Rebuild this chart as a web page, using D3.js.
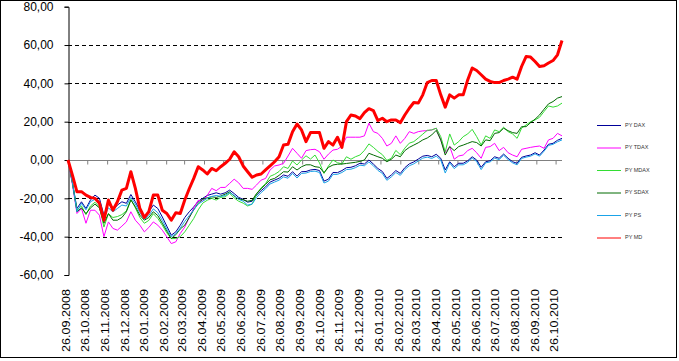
<!DOCTYPE html>
<html><head><meta charset="utf-8">
<script src="https://cdn.jsdelivr.net/npm/d3@7"></script>
<style>body{margin:0;background:#fff}svg{display:block}</style>
</head><body>
<svg id="c" width="679" height="361"></svg>
<script>
// weekly observations (Fridays) starting 26.09.2008
const startDate = "2008-09-26";
const seriesNames = ["PY DAX","PY TDAX","PY MDAX","PY SDAX","PY PS","PY MD"];
const yTicks = [-60,-40,-20,0,20,40,60,80];
const gridValues = [-40,-20,20,40,60];
const tickMonthFrom = "2008-09-01", tickMonthTo = "2010-11-01";

const DAX = [0,-12,-25.3,-21.8,-25.3,-20.9,-18.3,-20,-28.8,-22.6,
 -26.2,-23.5,-21.8,-22.6,-18,-21.8,-26.2,-29.3,-27,-23.5,
 -25.3,-29.7,-34.5,-39.2,-37.5,-34,-30,-27,-24.5,-21.5,
 -20,-18.5,-17.8,-17.1,-17.8,-17.1,-15.7,-17.5,-19.5,-20.5,
 -22,-21.5,-18.3,-16,-14,-11.5,-10.5,-9.5,-7.8,-8.5,
 -6.1,-8.4,-6.1,-6,-5.2,-4.9,-5.5,-11,-10,-6.5,
 -6.6,-5.5,-4,-3.8,-3,-1.7,-2.1,0,-2.1,-4.4,
 -6,-9.6,-7.8,-5.5,-7,-4,-2,-1,0.5,2,
 2.4,1.7,3,0.9,-5.2,-0.9,-3.5,-1.7,-1.7,-0.4,
 1.7,0,-3.8,-0.9,-0.4,1.7,0.9,3.1,0.9,-0.9,
 -1.7,1.4,2.1,2.6,3.8,2.6,5.2,8.2,8.7,10.3,11.3];
const TDAX = [0,-13,-27.9,-25.3,-33,-26.2,-26.2,-28.8,-40,-32.3,
 -35.7,-36.6,-34.5,-32.3,-27,-31.4,-34,-37.5,-35.2,-32.3,
 -34,-36.6,-40.1,-43.6,-42.7,-38.3,-35,-30,-25,-21,
 -21.5,-18.5,-14.8,-16,-14.3,-14.3,-12.2,-10,-11.9,-14.8,
 -14.8,-15.3,-13,-10.5,-9.6,-5.2,-3.1,-2.6,-1.7,2.1,
 6.1,3.5,0.9,4.9,5.4,5.6,4.3,0.4,3.1,5.2,
 5.6,7.3,11.9,11.9,11.9,11.9,12.6,19.2,14.8,13.9,
 11.3,7.3,8.7,12.6,8.7,11.3,14.8,13.9,14.8,15.2,
 15.3,15.7,16.6,10.5,3.8,7,0.4,2.1,2.6,4.9,
 6.1,3.8,0.9,6.6,7,8.7,4.9,6.6,3.8,2.6,
 1.7,5.6,6.1,6.6,7,7.3,6.1,10.5,11.3,13.9,12.6];
const MDAX = [0,-12,-26,-24,-28.5,-24,-22,-24.5,-35,-28,
 -30,-29.5,-28.5,-26.5,-20.5,-25,-30,-33,-31.5,-28,
 -30.5,-34,-38,-41,-41,-40,-37.5,-34,-30.5,-26,
 -22.5,-21,-20,-20.9,-19.5,-19.2,-17.4,-19.8,-21.5,-22.5,
 -24,-23,-17.8,-14.5,-12.3,-8.5,-7.5,-6,-3.5,-4.4,
 -0.5,-2.6,0,2.2,0.5,2.6,-1.5,-7,-3.1,0,
 -1.4,-2,1.7,0.4,1.7,2.6,5,8.4,6.6,4.5,
 2.8,-0.2,0.9,5,2.8,6.2,8.8,9.6,11.5,13.5,
 15.5,15.7,16.6,12.2,4.3,13.6,7.8,9.6,12.2,13.6,
 16,12.2,7.8,12.6,11.3,15.7,14.8,17.1,14.8,13.6,
 11.3,16.6,18.3,20,20.9,22.3,25.3,28.2,27.6,28.2,29.7];
const SDAX = [0,-12,-27,-25,-28,-25,-23,-25,-33,-28,
 -31.4,-31.4,-30,-27,-20.9,-24.4,-28.8,-31.4,-30,-27,
 -29,-33,-37,-41,-39,-36,-34,-30,-26,-22.5,
 -20.5,-19.7,-19.2,-19.5,-18.8,-17.8,-16.6,-18.8,-20.3,-20.8,
 -21.5,-21,-17.4,-15,-12.7,-10.3,-9.6,-8,-6.1,-6.3,
 -3.5,-5.2,-3.5,-2.5,-2.5,-3.5,-3.8,-6.6,-3.8,-2.6,
 -2.2,-2.1,-1.8,-1.5,-1.2,-0.7,0,3.5,2.6,1.7,
 0.9,-0.9,0.4,2.6,1.7,4.9,6.6,7.8,9,10.5,
 11.5,13.1,15.5,10.5,2.6,7,4.9,7,7.8,8.7,
 9.6,9.1,7.3,10.5,10.1,13.9,14.3,16.6,15.3,14.3,
 13.9,17.4,17.4,19.5,21.3,23.5,26.5,29.3,30.5,32.3,33.1];
const PS = [0,-12,-27,-22.6,-26,-21.8,-20.5,-21.5,-30,-25,
 -27,-25.3,-23.5,-24,-19.5,-23,-27.5,-31,-29,-25.5,
 -27.5,-31.5,-36,-40,-38.5,-35.5,-32,-29,-26,-23,
 -21.5,-20,-19,-18.5,-19,-18.5,-17,-18.5,-20.5,-21.5,
 -23.5,-23,-19.5,-17,-15,-12.5,-11.5,-10.5,-8.8,-9.5,
 -7,-9.4,-7,-6.8,-6,-5.8,-6.5,-12,-11,-7.5,
 -7.5,-6.5,-5,-4.8,-4,-2.7,-3,-1,-3,-5.4,
 -7,-10.6,-8.8,-6.5,-8,-5,-3,-2,-0.5,1,
 1.5,0.8,2,0,-6.8,-1.5,-4.5,-2.5,-2.5,-1.2,
 1,-0.8,-5,-1.5,-1,1,0.2,2.5,0.2,-1.5,
 -2.5,0.8,1.5,2,3.2,2,4.6,7.6,8.2,9.5,10.5];
const MD = [0,-8,-16.6,-16.5,-18.3,-19.5,-20,-22.6,-31.4,-20.9,
 -26.2,-21.8,-15.7,-14.8,-6.1,-14.8,-25.3,-30,-27,-18.3,
 -18.3,-26.2,-27.9,-31.4,-27.5,-27.9,-20.9,-15,-9.6,-3.5,
 -5.2,-7.3,-4.4,-5.6,-3.5,-1.7,0.4,4.3,1.7,-3.1,
 -6.1,-9,-7.8,-7.3,-5.2,-3.1,-0.9,1.7,7.8,8.2,
 14.8,18.8,15.7,9.6,14.3,14.3,14.3,6.1,9.6,7.8,
 11.9,6.6,20,23.5,23,21.6,24.7,26.8,25.8,20.6,
 21.8,20,20.9,20.9,19.5,23.5,27,30,29.7,34,
 40.4,41.5,41.5,34,27.6,34,32.3,34,34,41.8,
 48,46.7,44.5,42.2,41,40.4,40.4,41.5,42.2,43.2,
 42.2,48.8,54,53.7,51.4,48.8,49.2,50.6,51.9,54.9,62.4];

const seriesValues = [DAX, TDAX, MDAX, SDAX, PS, MD];
const seriesColors = ["#000099","#ff00ff","#33dd33","#006a00","#1aa3e8","#ff0000"];
const seriesWidths = [1,1,1,1,1,3];

const parse = d3.timeParse("%Y-%m-%d");
const t0 = parse(startDate);
const dates = d3.range(DAX.length).map(i => d3.timeDay.offset(t0, 7*i));

const svg = d3.select("#c");
const x = d3.scaleTime().domain([t0, dates[dates.length-1]]).range([68, 562]);
const y = d3.scaleLinear().domain([-60, 80]).range([275, 6.7]);

const loc = d3.formatLocale({decimal:",", thousands:".", grouping:[3], currency:["","€"], minus:"-"});
const fmt = loc.format(".2f");
const dfmt = d3.timeFormat("%d.%m.%Y");

// outer border
svg.append("rect").attr("x",0.5).attr("y",0.5).attr("width",676).attr("height",357)
  .attr("fill","none").attr("stroke","#000").attr("stroke-width",1);

// gridlines
svg.append("g").selectAll("line").data(gridValues).join("line")
  .attr("x1",68).attr("x2",562)
  .attr("y1",d=>Math.round(y(d))+0.5).attr("y2",d=>Math.round(y(d))+0.5)
  .attr("stroke","#000").attr("stroke-dasharray","4,3").attr("stroke-width",1);

// x axis (at zero) with monthly ticks on the 26th
const monthTicks = d3.timeMonth.range(parse(tickMonthFrom), parse(tickMonthTo))
  .map(d => new Date(d.getFullYear(), d.getMonth(), 26));
const xAxis = d3.axisBottom(x).tickValues(monthTicks).tickSize(4).tickFormat("");
const gx = svg.append("g").attr("transform",`translate(0,${Math.round(y(0))+0.5})`).call(xAxis);
gx.select(".domain").attr("stroke","#808080").attr("d",`M68,0H562`);
gx.selectAll(".tick line").attr("stroke","#808080");

// x labels (rotated) at the bottom
svg.append("g").selectAll("text").data(monthTicks).join("text")
  .attr("transform", d => `translate(${x(d)-1.5},289) rotate(-90)`)
  .attr("text-anchor","end").attr("dy","0.35em")
  .attr("font-family","Liberation Sans, Arial, sans-serif").attr("font-size",10.5)
  .attr("textLength",63).attr("lengthAdjust","spacingAndGlyphs")
  .attr("fill","#000").text(d => dfmt(d));

// y axis
const yAxis = d3.axisLeft(y).tickValues(yTicks).tickSize(4).tickFormat(fmt).tickPadding(11);
const gy = svg.append("g").attr("transform","translate(68.5,0)").call(yAxis);
gy.select(".domain").attr("stroke","#000");
gy.selectAll(".tick line").attr("stroke","#000");
gy.selectAll(".tick text").attr("font-family","Liberation Sans, Arial, sans-serif").attr("font-size",12).attr("fill","#000");

// lines
const line = d3.line().x((d,i)=>x(dates[i])).y(d=>y(d));
svg.append("g").selectAll("path").data(seriesValues).join("path")
  .attr("d", d => line(d)).attr("fill","none")
  .attr("stroke",(d,i)=>seriesColors[i]).attr("stroke-width",(d,i)=>seriesWidths[i])
  .attr("stroke-linejoin","round");

// legend
const lg = svg.append("g").selectAll("g").data(seriesNames).join("g")
  .attr("transform",(d,i)=>`translate(0,${125+22.5*i})`);
lg.append("line").attr("x1",597).attr("x2",621).attr("y1",0.5).attr("y2",0.5)
  .attr("stroke",(d,i)=>seriesColors[i]).attr("stroke-width",1);
lg.append("text").attr("x",625).attr("y",0).attr("dy","0.35em")
  .attr("font-family","Liberation Sans, Arial, sans-serif").attr("font-size",5.5)
  .attr("fill","#333").text(d=>d);
</script>
</body></html>
